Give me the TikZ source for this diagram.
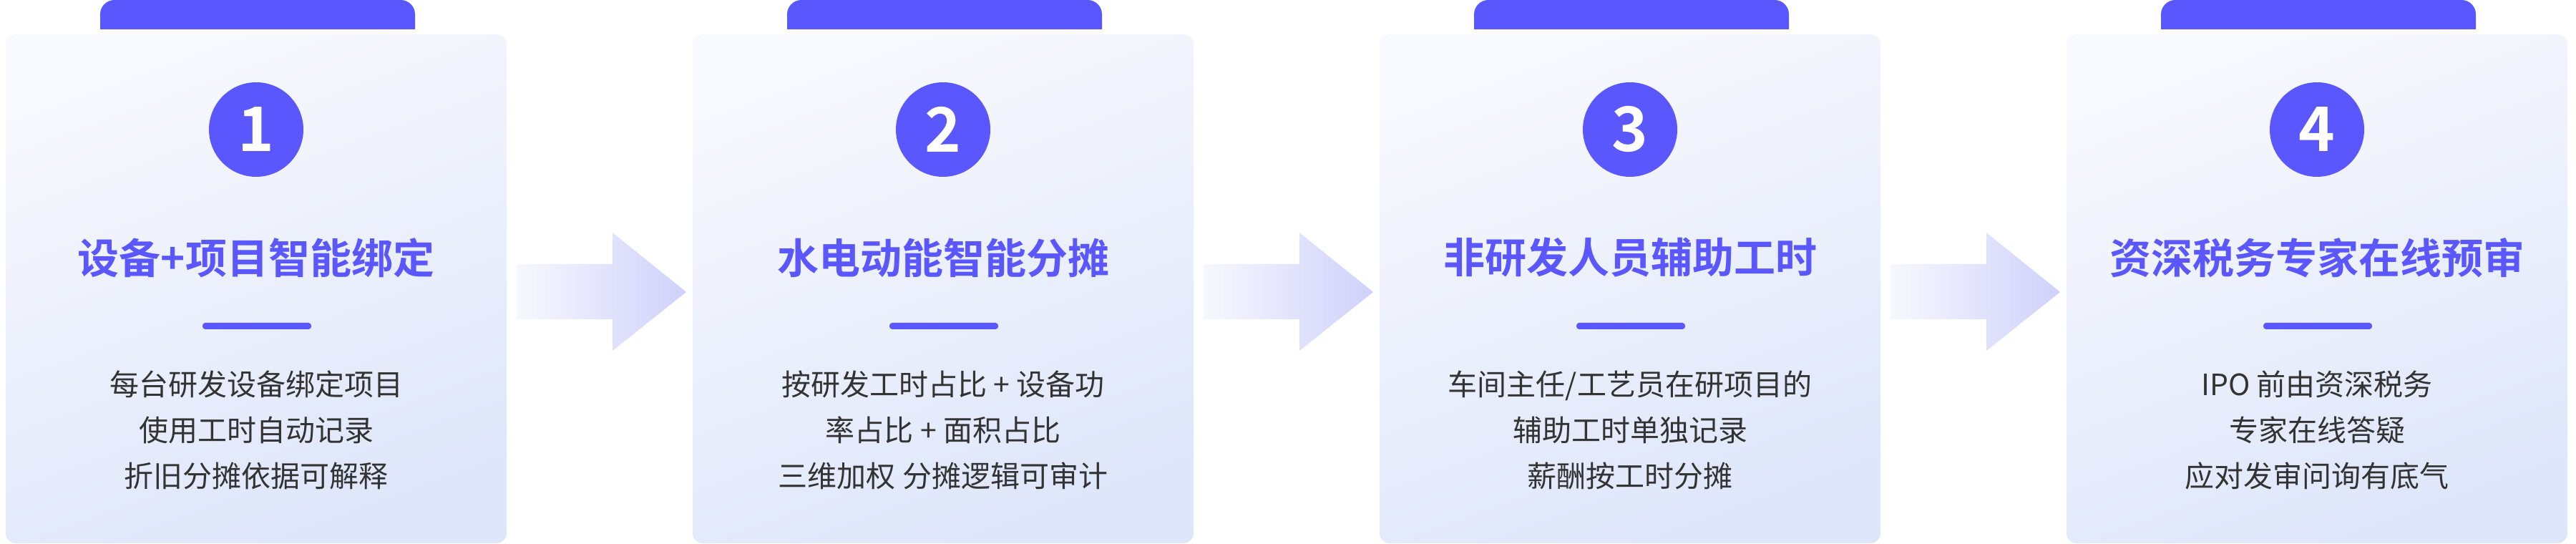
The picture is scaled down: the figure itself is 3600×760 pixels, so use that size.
\documentclass[tikz,border=0pt]{standalone}
\usepackage{fontspec}
\newfontfamily\cjk{Noto Sans CJK SC}
\newfontfamily\cjkb{Noto Sans CJK SC Bold}
\definecolor{pur}{HTML}{5B57FF}
\definecolor{txt}{HTML}{333333}
\definecolor{cardtop}{HTML}{F8F9FE}
\definecolor{cardbot}{HTML}{DEE6FA}
\definecolor{arrL}{HTML}{F7F8FE}
\definecolor{arrR}{HTML}{CFD1FB}
\tikzset{
  num/.style={circle,fill=pur,minimum size=132pt,inner sep=0pt,text=white,font=\cjkb\fontsize{86}{86}\selectfont},
  ttl/.style={text=pur,font=\cjkb\fontsize{58}{60}\selectfont,inner sep=0pt},
  body/.style={text=txt,font=\cjk\fontsize{41}{64}\selectfont,align=center,inner sep=0pt},
}
\begin{document}
\begin{tikzpicture}[x=1pt,y=1pt]
\useasboundingbox (0,0) rectangle (3600,760);
\foreach \i/\n/\t/\b in {
 0/1/{设备+项目智能绑定}/{每台研发设备绑定项目\\使用工时自动记录\\折旧分摊依据可解释},
 1/2/{水电动能智能分摊}/{按研发工时占比 + 设备功\\率占比 + 面积占比\\三维加权 分摊逻辑可审计},
 2/3/{非研发人员辅助工时}/{车间主任/工艺员在研项目的\\辅助工时单独记录\\薪酬按工时分摊},
 3/4/{资深税务专家在线预审}/{IPO 前由资深税务\\专家在线答疑\\应对发审问询有底气}}{
  \pgfmathsetmacro\xo{8+960*\i}
  \begin{scope}[xshift=\xo pt]
    \fill[pur] (132,719) -- (132,740) arc[start angle=180,end angle=90,radius=20] -- (552,760) arc[start angle=90,end angle=0,radius=20] -- (572,719) -- cycle;
    \shade[rounded corners=14pt,top color=cardtop,bottom color=cardbot,shading angle=20,draw=none] (0,1) rectangle (700,712);
    \node[num] (n\n) at (350,579) {\n};
    \node[ttl] (t\n) at (350,400) {\t};
    \fill[pur,rounded corners=4pt] (275,300) rectangle (427,309);
    \coordinate (u\n) at (351,305);
    \node[body] (b\n) at (350,159) {\b};
  \end{scope}
}
\foreach \i in {0,1,2}{
  \pgfmathsetmacro\xa{722+960*\i}
  \begin{scope}[xshift=\xa pt]
    \shade[left color=arrL,right color=arrR] (0,314) -- (134,314) -- (134,270) -- (237,352) -- (134,435) -- (134,391) -- (0,391) -- cycle;
    \coordinate (a\i) at (118,352);
  \end{scope}
}
\end{tikzpicture}
\end{document}
